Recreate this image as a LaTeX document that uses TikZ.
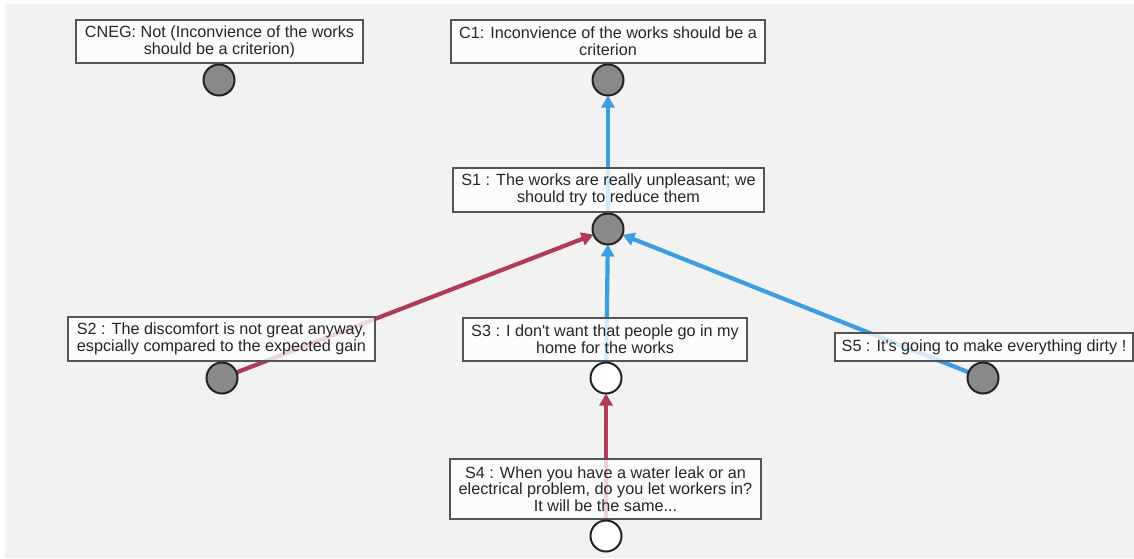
\documentclass[tikz,border=0pt]{standalone}
\usepackage{fontspec}
\setmainfont{Liberation Sans}
\usetikzlibrary{arrows.meta}
\definecolor{bggray}{HTML}{F2F2F2}
\definecolor{boxborder}{HTML}{555555}
\definecolor{txtcol}{HTML}{262626}
\definecolor{nodegray}{HTML}{898989}
\definecolor{circborder}{HTML}{222222}
\definecolor{supblue}{HTML}{3A9EE0}
\definecolor{attred}{HTML}{B03A58}
\pgfdeclarelayer{bg}
\pgfdeclarelayer{edges}
\pgfsetlayers{bg,edges,main}
\tikzset{
  argbox/.style={draw=boxborder, line width=1.2pt, fill=white, fill opacity=0.78, text opacity=1,
    text=txtcol, inner sep=0pt, align=center, font=\fontsize{16.2}{16.8}\selectfont},
  arg/.style={circle, draw=circborder, line width=2pt, fill=nodegray, minimum size=31pt, inner sep=0pt, outer sep=0pt},
  argw/.style={arg, fill=white},
  support/.style={draw=supblue, line width=4.2pt, -{Triangle[length=12pt,width=13pt]}},
  attack/.style={draw=attred, line width=4.2pt, -{Triangle[length=12pt,width=13pt]}},
}
\begin{document}
\begin{tikzpicture}[x=1pt,y=-1pt]
\useasboundingbox (0,0) rectangle (1134,558);
\begin{pgfonlayer}{bg}
  \fill[white] (0,0) rectangle (1134,558);
  \fill[bggray] (5,4) rectangle (1134,558);
\end{pgfonlayer}

% boxes
\node[argbox, minimum width=287pt, minimum height=43pt] (cnegbox) at (219.5,41.5) {CNEG: Not (Inconvience of the works\\should be a criterion)};
\node[argbox, minimum width=314pt, minimum height=43pt] (c1box) at (608,41.5) {C1: Inconvience of the works should be a\\criterion};
\node[argbox, minimum width=311pt, minimum height=44pt] (s1box) at (608.5,190) {S1 : The works are really unpleasant; we\\should try to reduce them};
\node[argbox, minimum width=307pt, minimum height=44pt] (s2box) at (221.5,339) {S2 : The discomfort is not great anyway,\\espcially compared to the expected gain};
\node[argbox, minimum width=284pt, minimum height=43pt] (s3box) at (605,339.5) {S3 : I don\textquotesingle t want that people go in my\\home for the works};
\node[argbox, minimum width=311pt, minimum height=60pt] (s4box) at (605.5,489) {S4 : When you have a water leak or an\\electrical problem, do you let workers in?\\It will be the same...};
\node[argbox, minimum width=298pt, minimum height=28pt] (s5box) at (984,347) {S5 : It\textquotesingle s going to make everything dirty !};

% argument circles
\node[arg] (cneg) at (219,80) {};
\node[arg] (c1) at (608,80) {};
\node[arg] (s1) at (608,229) {};
\node[arg] (s2) at (222,378) {};
\node[argw] (s3) at (606,378) {};
\node[argw] (s4) at (606,536) {};
\node[arg] (s5) at (983,378) {};

% relations
\begin{pgfonlayer}{edges}
  \draw[support] (s1) -- (c1);
  \draw[attack] (s2) -- (s1);
  \draw[support] (s3) -- (s1);
  \draw[support] (s5) -- (s1);
  \draw[attack] (s4) -- (s3);
\end{pgfonlayer}
\end{tikzpicture}
\end{document}
